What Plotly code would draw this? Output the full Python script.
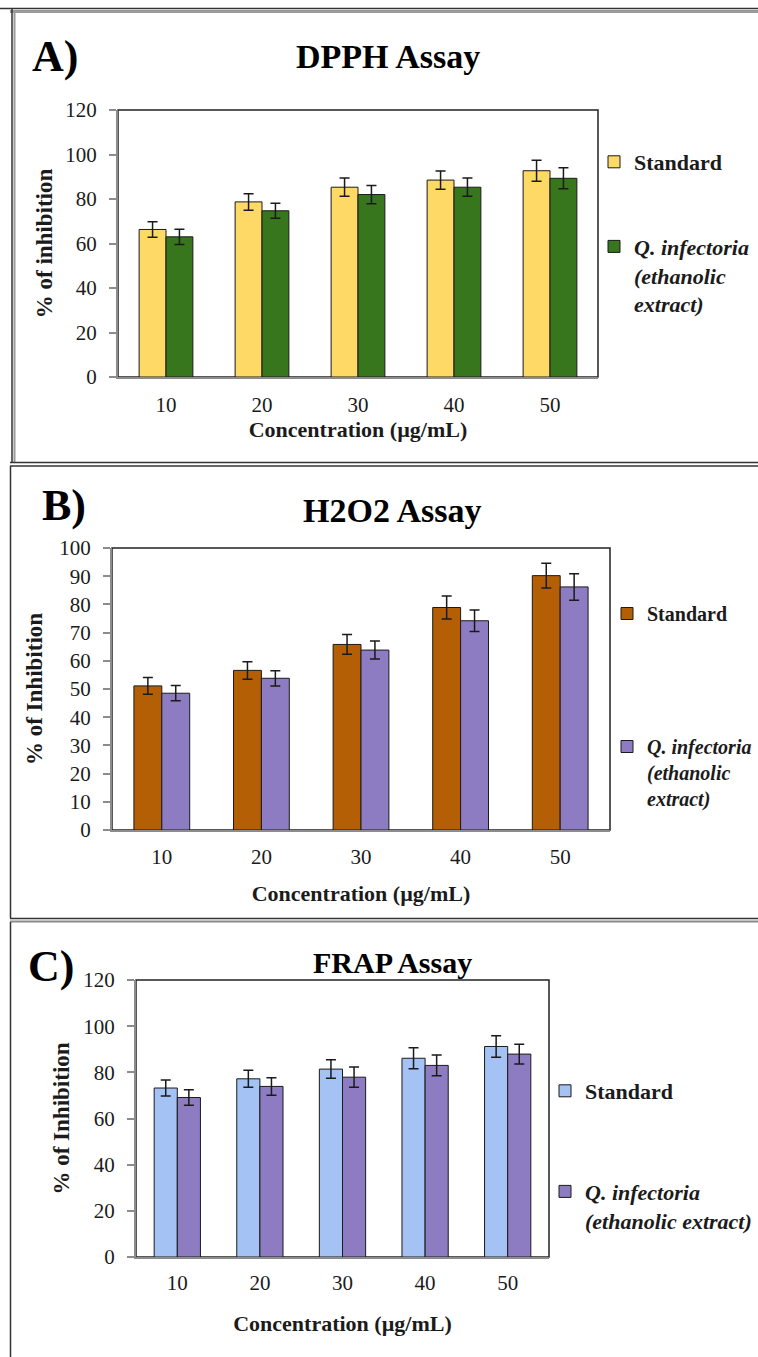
import plotly.graph_objects as go

W, H = 758, 1357

concentrations = ["10", "20", "30", "40", "50"]

# Panel A - DPPH
dpph_standard = [66.3, 78.7, 85.3, 88.5, 92.7]
dpph_standard_err = [3.5, 3.7, 4.1, 4.1, 4.7]
dpph_qi = [63.0, 74.7, 82.0, 85.3, 89.3]
dpph_qi_err = [3.4, 3.4, 4.1, 4.1, 4.7]

# Panel B - H2O2
h2o2_standard = [51.1, 56.6, 65.8, 78.9, 90.2]
h2o2_standard_err = [3.0, 3.1, 3.5, 4.1, 4.4]
h2o2_qi = [48.5, 53.8, 63.8, 74.2, 86.2]
h2o2_qi_err = [2.7, 2.7, 3.2, 3.8, 4.7]

# Panel C - FRAP
frap_standard = [73.2, 77.2, 81.4, 86.1, 91.2]
frap_standard_err = [3.5, 3.7, 4.0, 4.5, 4.7]
frap_qi = [69.1, 73.9, 77.9, 83.0, 87.9]
frap_qi_err = [3.4, 3.8, 4.4, 4.5, 4.3]

FONT = "Liberation Serif, Times New Roman, serif"
TXT = "#1b1b1b"


def px_x(v):
    return v / W


def px_y(v):
    return 1 - v / H


fig = go.Figure()

panels = [
    dict(ax="", std=dpph_standard, stde=dpph_standard_err, qi=dpph_qi, qie=dpph_qi_err,
         cstd="#FFD966", cqi="#38761D", legend="legend",
         qname="<i>Q. infectoria</i><br><i>(ethanolic</i><br><i>extract)</i>"),
    dict(ax="2", std=h2o2_standard, stde=h2o2_standard_err, qi=h2o2_qi, qie=h2o2_qi_err,
         cstd="#B45F06", cqi="#8E7CC3", legend="legend2",
         qname="<i>Q. infectoria</i><br><i>(ethanolic</i><br><i>extract)</i>"),
    dict(ax="3", std=frap_standard, stde=frap_standard_err, qi=frap_qi, qie=frap_qi_err,
         cstd="#A4C2F4", cqi="#8E7CC3", legend="legend3",
         qname="<i>Q. infectoria</i><br><i>(ethanolic extract)</i>"),
]

for i, p in enumerate(panels):
    for name, vals, errs, col, grp in [
        ("Standard", p["std"], p["stde"], p["cstd"], "s%d" % i),
        (p["qname"], p["qi"], p["qie"], p["cqi"], "q%d" % i),
    ]:
        fig.add_trace(go.Bar(
            x=concentrations, y=vals, name=name,
            marker=dict(color=col, line=dict(color="#1a1a1a", width=1)),
            error_y=dict(type="data", array=errs, color="#1a1a1a", thickness=1.5, width=5),
            xaxis="x" + p["ax"], yaxis="y" + p["ax"],
            legend=p["legend"], legendgroup=grp,
        ))

# geometry (pixels)
geo = {
    "": dict(l=118, r=598, t=110, b=377, yr=[0, 120], dt=20, xstand=8, xtstand=0,
             ytitle="% of inhibition", ytstand=6),
    "2": dict(l=112, r=610, t=548, b=830, yr=[0, 100], dt=10, xstand=7, xtstand=17,
              ytitle="% of Inhibition", ytstand=10),
    "3": dict(l=136, r=549, t=980, b=1257, yr=[0, 120], dt=20, xstand=6, xtstand=21,
              ytitle="% of Inhibition", ytstand=7),
}

layout = dict(
    width=W, height=H, autosize=False,
    margin=dict(l=0, r=0, t=0, b=0, autoexpand=False),
    paper_bgcolor="white", plot_bgcolor="white",
    barmode="group", bargap=0.44, bargroupgap=0.0,
    font=dict(family=FONT, color=TXT, size=20),
    shapes=[], annotations=[],
)

for ax, g in geo.items():
    xk = "xaxis" + ax
    yk = "yaxis" + ax
    layout[xk] = dict(
        domain=[px_x(g["l"]), px_x(g["r"])], anchor="y" + ax,
        showline=True, linecolor="#8c8c8c", linewidth=2,
        ticks="", showgrid=False, zeroline=False,
        tickfont=dict(family=FONT, size=21, color=TXT),
        ticklabelstandoff=g["xstand"],
        title=dict(text="Concentration (µg/mL)",
                   font=dict(family=FONT, size=22, color=TXT, weight="bold"),
                   standoff=g["xtstand"]),
    )
    layout[yk] = dict(
        domain=[px_y(g["b"]), px_y(g["t"])], anchor="x" + ax,
        range=g["yr"], dtick=g["dt"], tick0=0,
        showline=True, linecolor="#8c8c8c", linewidth=2,
        ticks="outside", ticklen=7, tickcolor="#8c8c8c", tickwidth=1.5,
        showgrid=False, zeroline=False,
        tickfont=dict(family=FONT, size=21, color=TXT),
        ticklabelstandoff=8,
        title=dict(text=g["ytitle"],
                   font=dict(family=FONT, size=23, color=TXT, weight="bold"),
                   standoff=g["ytstand"]),
    )
    # plot-area border (black top/right)
    layout["shapes"].append(dict(
        type="rect", xref="x%s domain" % ax, yref="y%s domain" % ax,
        x0=0, x1=1, y0=0, y1=1, line=dict(color="#222222", width=1.5), layer="below"))

# panel frame lines
frame = [
    (0, 8.5, W, 8.5, "#333333", 1.5),
    (10, 11.5, W, 11.5, "#9a9a9a", 3),
    (12, 8, 12, 463, "#333333", 1.5),
    (14.5, 12, 14.5, 462, "#9a9a9a", 2),
    (10, 462.5, W, 462.5, "#333333", 1.5),
    (10, 466, W, 466, "#333333", 1.5),
    (10.5, 466, 10.5, 918, "#333333", 1.5),
    (10, 918.5, W, 918.5, "#333333", 1.5),
    (10, 921.5, W, 921.5, "#8a8a8a", 2),
    (10.5, 922, 10.5, H, "#333333", 1.5),
]
for x0, y0, x1, y1, c, w in frame:
    layout["shapes"].append(dict(type="line", xref="paper", yref="paper",
                                 x0=px_x(x0), x1=px_x(x1), y0=px_y(y0), y1=px_y(y1),
                                 line=dict(color=c, width=w), layer="above"))

# titles and panel letters
texts = [
    ("DPPH Assay", 388, 57, 34),
    ("H2O2 Assay", 392, 510, 34),
    ("FRAP Assay", 392, 962, 30),
]
for t, x, y, s in texts:
    layout["annotations"].append(dict(
        text=t, x=px_x(x), y=px_y(y), xref="paper", yref="paper",
        xanchor="center", yanchor="middle", showarrow=False,
        font=dict(family=FONT, size=s, color="black", weight="bold")))

letters = [("A)", 30, 57), ("B)", 40, 505), ("C)", 26, 966)]
for t, x, y in letters:
    layout["annotations"].append(dict(
        text=t, x=px_x(x), y=px_y(y), xref="paper", yref="paper",
        xanchor="left", yanchor="middle", showarrow=False,
        font=dict(family=FONT, size=44, color="black", weight="bold")))

# legends
leg_common = dict(
    xref="paper", yref="paper", xanchor="left", yanchor="top",
    bgcolor="rgba(0,0,0,0)", borderwidth=0, traceorder="grouped",
    valign="top", itemclick=False, itemdoubleclick=False,
    font=dict(family=FONT, size=22, color=TXT, weight="bold"),
)
layout["legend"] = dict(leg_common, x=px_x(594), y=px_y(141), tracegroupgap=53)
layout["legend2"] = dict(leg_common, x=px_x(607), y=px_y(594), tracegroupgap=104,
                         font=dict(family=FONT, size=20, color=TXT, weight="bold"))
layout["legend3"] = dict(leg_common, x=px_x(545), y=px_y(1070), tracegroupgap=69)

fig.update_layout(**layout)
fig.write_html("out.html",
               config={"displayModeBar": False},
               post_script="document.body.style.margin='0';document.body.style.overflow='hidden';")
